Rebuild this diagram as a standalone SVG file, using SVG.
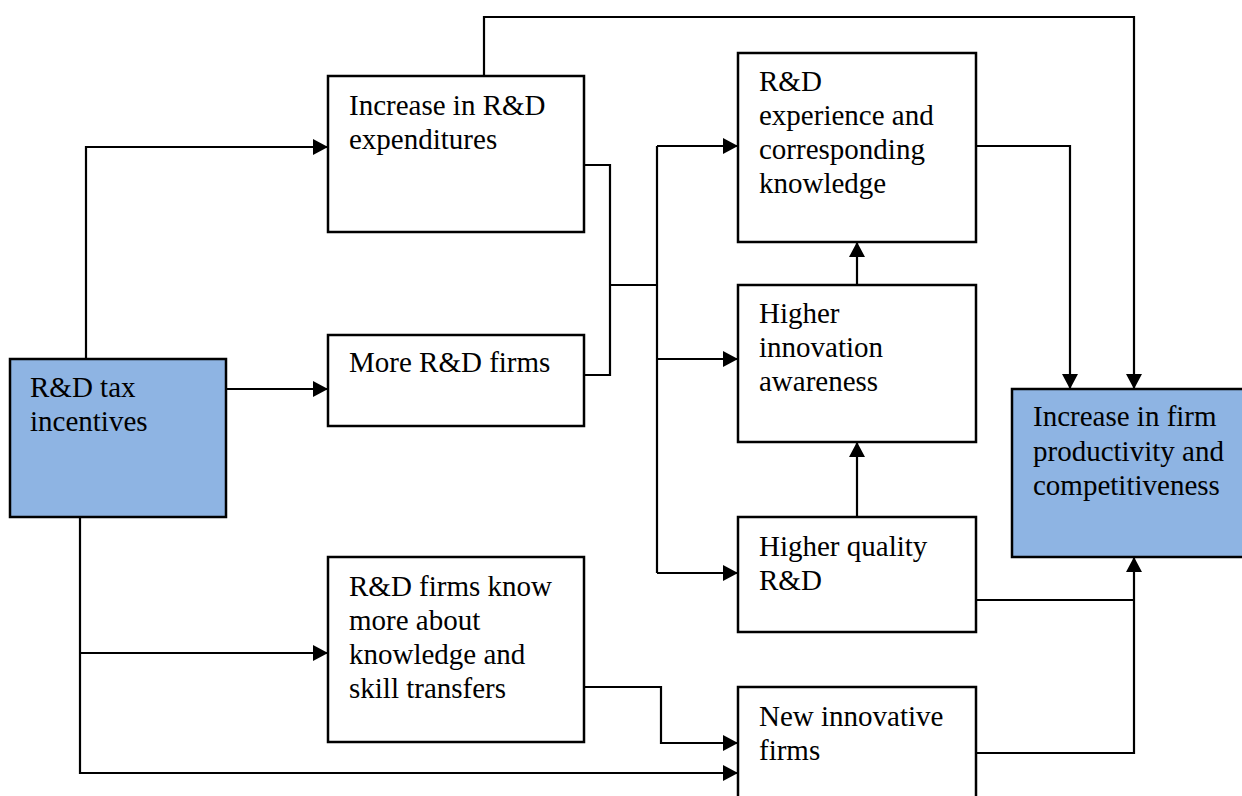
<svg xmlns="http://www.w3.org/2000/svg" width="1242" height="796" viewBox="0 0 1242 796">
<style>
.box{fill:#fff;stroke:#000;stroke-width:2.5}
.blue{fill:#8EB4E3;stroke:#000;stroke-width:2.5}
.t{font-family:"Liberation Serif","Times New Roman",serif;font-size:29px;fill:#000}
.c{fill:none;stroke:#000;stroke-width:2.2}
</style>
<defs>
<marker id="ah" markerWidth="15" markerHeight="16" refX="15" refY="8" orient="auto" markerUnits="userSpaceOnUse">
<path d="M0,0 L15,8 L0,16 Z" fill="#000"/>
</marker>
</defs>
<rect width="1242" height="796" fill="#fff"/>
<g id="connectors">
<path class="c" d="M86,359 V147 H328" marker-end="url(#ah)"/>
<path class="c" d="M226,389 H328" marker-end="url(#ah)"/>
<path class="c" d="M80,517 V773 H738" marker-end="url(#ah)"/>
<path class="c" d="M80,653 H328" marker-end="url(#ah)"/>
<path class="c" d="M584,165 H610 V375 H584"/>
<path class="c" d="M610,285 H657"/>
<path class="c" d="M657,146 V573"/>
<path class="c" d="M657,146 H738" marker-end="url(#ah)"/>
<path class="c" d="M657,359 H738" marker-end="url(#ah)"/>
<path class="c" d="M657,573 H738" marker-end="url(#ah)"/>
<path class="c" d="M584,687 H661 V743 H738" marker-end="url(#ah)"/>
<path class="c" d="M857,517 V442" marker-end="url(#ah)"/>
<path class="c" d="M857,285 V242" marker-end="url(#ah)"/>
<path class="c" d="M976,146 H1070 V389" marker-end="url(#ah)"/>
<path class="c" d="M484,76 V17 H1134 V389" marker-end="url(#ah)"/>
<path class="c" d="M976,600 H1134"/>
<path class="c" d="M976,753 H1134 V557" marker-end="url(#ah)"/>
</g>
<g id="n-tax">
<rect class="blue" x="10" y="359" width="216" height="158"/>
<text class="t" x="30" y="397">R&amp;D tax</text>
<text class="t" x="30" y="431">incentives</text>
</g>
<g id="n-expend">
<rect class="box" x="328" y="76" width="256" height="156"/>
<text class="t" x="349" y="115">Increase in R&amp;D</text>
<text class="t" x="349" y="149">expenditures</text>
</g>
<g id="n-morefirms">
<rect class="box" x="328" y="335" width="256" height="91"/>
<text class="t" x="349" y="372">More R&amp;D firms</text>
</g>
<g id="n-know">
<rect class="box" x="328" y="557" width="256" height="185"/>
<text class="t" x="349" y="596">R&amp;D firms know</text>
<text class="t" x="349" y="630">more about</text>
<text class="t" x="349" y="664">knowledge and</text>
<text class="t" x="349" y="698">skill transfers</text>
</g>
<g id="n-experience">
<rect class="box" x="738" y="53" width="238" height="189"/>
<text class="t" x="759" y="91">R&amp;D</text>
<text class="t" x="759" y="125">experience and</text>
<text class="t" x="759" y="159">corresponding</text>
<text class="t" x="759" y="193">knowledge</text>
</g>
<g id="n-awareness">
<rect class="box" x="738" y="285" width="238" height="157"/>
<text class="t" x="759" y="323">Higher</text>
<text class="t" x="759" y="357">innovation</text>
<text class="t" x="759" y="391">awareness</text>
</g>
<g id="n-quality">
<rect class="box" x="738" y="517" width="238" height="115"/>
<text class="t" x="759" y="556">Higher quality</text>
<text class="t" x="759" y="590">R&amp;D</text>
</g>
<g id="n-newfirms">
<rect class="box" x="738" y="687" width="238" height="120"/>
<text class="t" x="759" y="726">New innovative</text>
<text class="t" x="759" y="760">firms</text>
</g>
<g id="n-productivity">
<rect class="blue" x="1012" y="389" width="240" height="168"/>
<text class="t" x="1033" y="426">Increase in firm</text>
<text class="t" x="1033" y="461">productivity and</text>
<text class="t" x="1033" y="495">competitiveness</text>
</g>
</svg>
